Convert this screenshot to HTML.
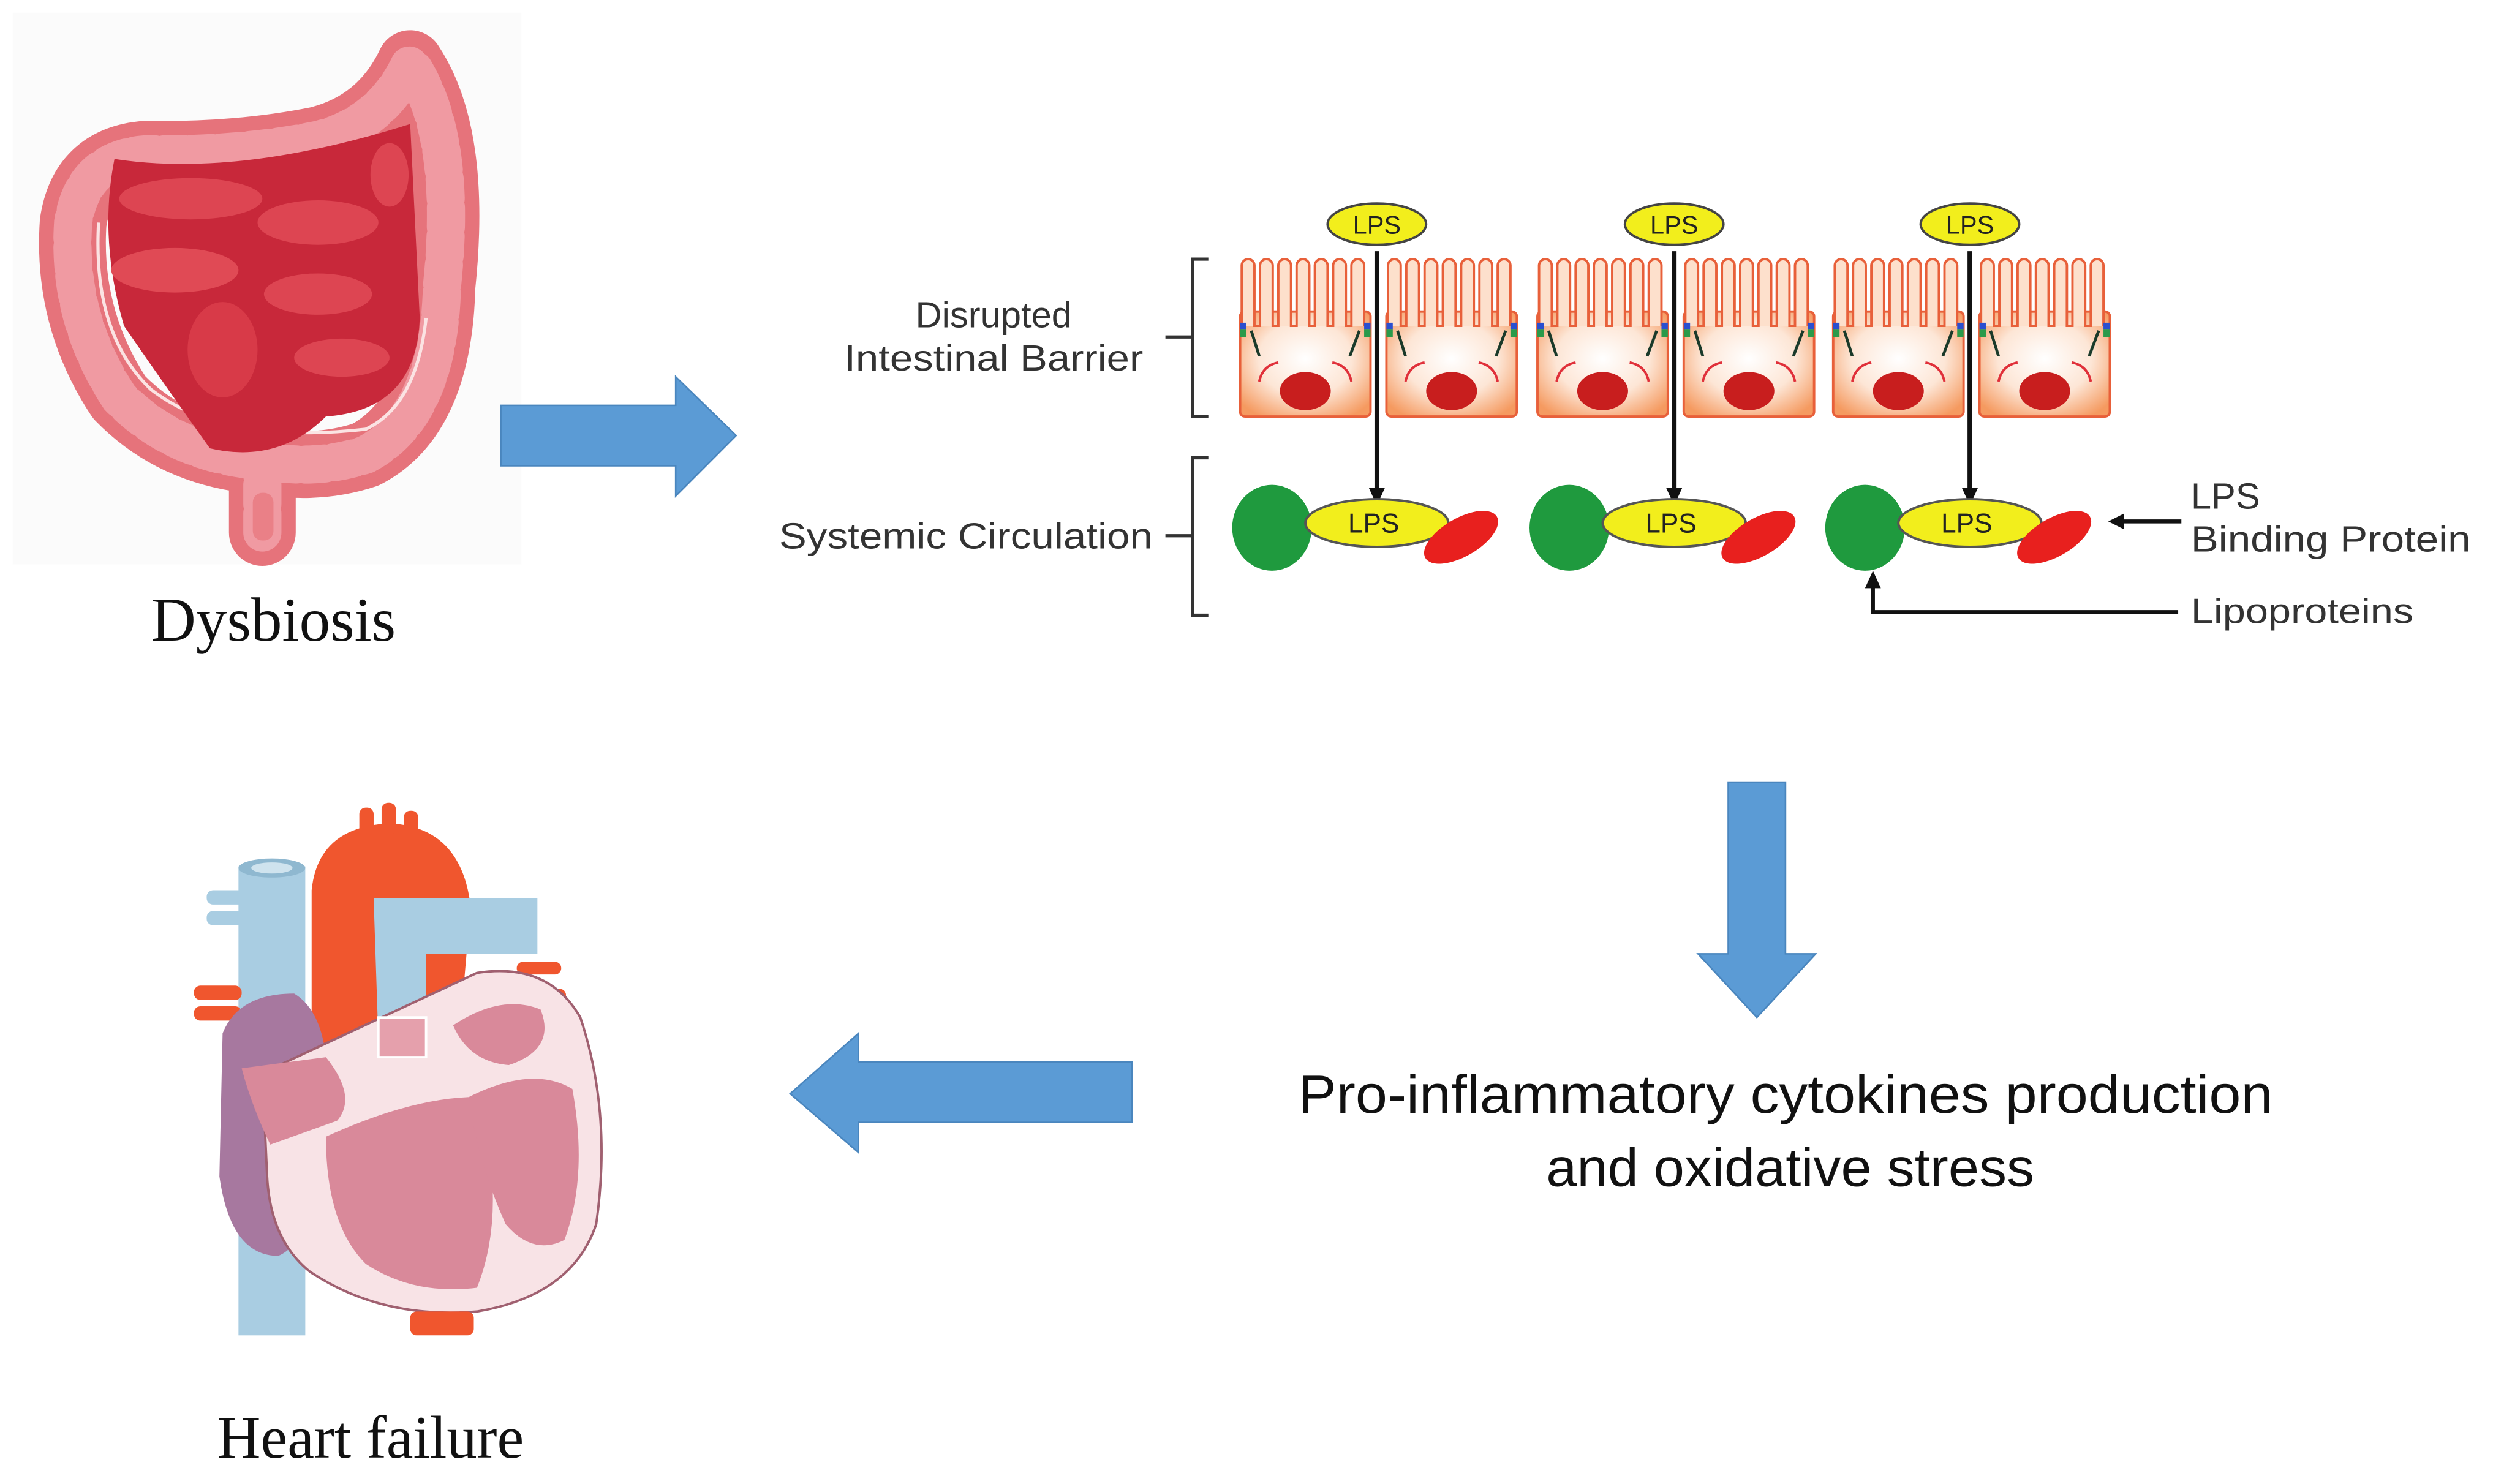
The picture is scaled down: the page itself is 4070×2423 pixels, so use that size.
<!DOCTYPE html>
<html><head><meta charset="utf-8"><style>html,body{margin:0;padding:0;background:#fff}svg{display:block}</style></head>
<body>
<svg width="4070" height="2423" viewBox="0 0 1568 933.5" preserveAspectRatio="none" xmlns="http://www.w3.org/2000/svg">
<defs>
<radialGradient id="cg" cx="50%" cy="45%" r="65%">
<stop offset="0" stop-color="#fff"/><stop offset="0.55" stop-color="#fde6d6"/><stop offset="1" stop-color="#f59a60"/>
</radialGradient>
<g id="cell">
<rect x="0" y="196" width="82" height="66" rx="3" fill="url(#cg)" stroke="#e8603a" stroke-width="1.5"/>
<path d="M1,205 v-38 a4,4 0 0 1 8,0 v38 h3.5 v-38 a4,4 0 0 1 8,0 v38 h3.5 v-38 a4,4 0 0 1 8,0 v38 h3.5 v-38 a4,4 0 0 1 8,0 v38 h3.5 v-38 a4,4 0 0 1 8,0 v38 h3.5 v-38 a4,4 0 0 1 8,0 v38 h3.5 v-38 a4,4 0 0 1 8,0 v38" fill="#fde0cc" stroke="#e8603a" stroke-width="1.5"/>
<rect x="0" y="203" width="4" height="4" fill="#2a4fd0"/><rect x="0" y="207" width="4" height="5" fill="#2a9a4a"/>
<rect x="78" y="203" width="4" height="4" fill="#2a4fd0"/><rect x="78" y="207" width="4" height="5" fill="#2a9a4a"/>
<path d="M7,208 l5,16 M75,208 l-6,16" stroke="#1a3a2a" stroke-width="1.8"/>
<path d="M12,240 q2,-10 12,-12 M70,240 q-2,-10 -12,-12" stroke="#e0303a" stroke-width="1.5" fill="none"/>
<ellipse cx="41" cy="246" rx="16" ry="12" fill="#c81e1e"/>
</g>
<g id="grp">
<use href="#cell" x="780"/><use href="#cell" x="872"/>
<ellipse cx="866" cy="141" rx="31" ry="13" fill="#f2ee1c" stroke="#444" stroke-width="1.5"/>
<text x="866" y="147" font-family="Liberation Sans, sans-serif" font-size="16" text-anchor="middle" fill="#222">LPS</text>
<line x1="866" y1="158" x2="866" y2="310" stroke="#111" stroke-width="3"/>
<path d="M861,307 L866,318 L871,307 Z" fill="#111"/>
<ellipse cx="800" cy="332" rx="25" ry="27" fill="#1f9a3e"/>
<ellipse cx="866" cy="329" rx="45" ry="15" fill="#f2ee1c" stroke="#555" stroke-width="1.5"/>
<text x="864" y="335" font-family="Liberation Sans, sans-serif" font-size="17" text-anchor="middle" fill="#222">LPS</text>
<ellipse cx="0" cy="0" rx="26" ry="12" fill="#e8201e" transform="translate(919,338) rotate(-30)"/>
</g>
</defs>

<!-- Intestine -->
<rect x="8" y="8" width="320" height="347" fill="#fbfbfb"/>
<path d="M165,335 L165,290 Q110,286 75,250 Q42,200 46,140 Q52,100 92,97 Q150,98 200,88 Q240,78 258,40 Q288,85 278,180 Q276,262 230,286 Q200,296 165,290" fill="none" stroke="#e6737b" stroke-width="42" stroke-linejoin="round" stroke-linecap="round"/>
<path d="M165,335 L165,290 Q110,286 75,250 Q42,200 46,140 Q52,100 92,97 Q150,98 200,88 Q240,78 258,40 Q288,85 278,180 Q276,262 230,286 Q200,296 165,290" fill="none" stroke="#f09aa2" stroke-width="24" stroke-dasharray="12 6" stroke-linecap="round"/>
<path d="M62,140 Q58,210 95,245 Q140,280 230,270 Q262,255 268,200" fill="none" stroke="#fbe3e3" stroke-width="2"/>
<rect x="159" y="310" width="13" height="30" rx="6" fill="#ea8087"/>
<path d="M72,100 Q150,112 258,78 L264,200 Q262,258 205,262 Q175,292 132,282 Q102,240 78,205 Q62,150 72,100 Z" fill="#c8283a"/>
<ellipse cx="120" cy="125" rx="45" ry="13" fill="#dd4552"/>
<ellipse cx="200" cy="140" rx="38" ry="14" fill="#dd4552"/>
<ellipse cx="110" cy="170" rx="40" ry="14" fill="#e04a55"/>
<ellipse cx="200" cy="185" rx="34" ry="13" fill="#dd4552"/>
<ellipse cx="140" cy="220" rx="22" ry="30" fill="#d83a48"/>
<ellipse cx="215" cy="225" rx="30" ry="12" fill="#dd4552"/>
<ellipse cx="245" cy="110" rx="12" ry="20" fill="#dd4552"/>
<text x="172" y="403" font-family="Liberation Serif, serif" font-size="39" text-anchor="middle" fill="#111">Dysbiosis</text>

<!-- right arrow -->
<path d="M315,255 H425 V237 L463,274 L425,312 V293 H315 Z" fill="#5b9bd5" stroke="#4a86be" stroke-width="1"/>

<!-- diagram -->
<use href="#grp"/>
<use href="#grp" x="187"/>
<use href="#grp" x="373"/>
<path d="M760,163 H750 V262 H760 M733,212 H750" fill="none" stroke="#333" stroke-width="2"/>
<path d="M760,288 H750 V387 H760 M733,337 H750" fill="none" stroke="#333" stroke-width="2"/>
<g font-family="Liberation Sans, sans-serif" font-size="23" fill="#333">
<text x="625" y="206" text-anchor="middle">Disrupted</text>
<text x="625" y="233" text-anchor="middle" textLength="188" lengthAdjust="spacingAndGlyphs">Intestinal  Barrier</text>
<text x="725" y="345" text-anchor="end" textLength="235" lengthAdjust="spacingAndGlyphs">Systemic  Circulation</text>
<text x="1378" y="320">LPS</text>
<text x="1378" y="347" textLength="176" lengthAdjust="spacingAndGlyphs">Binding  Protein</text>
<text x="1378" y="392" font-size="22" textLength="140" lengthAdjust="spacingAndGlyphs">Lipoproteins</text>
</g>
<line x1="1372" y1="328" x2="1335" y2="328" stroke="#111" stroke-width="2.5"/>
<path d="M1336,323 L1326,328 L1336,333 Z" fill="#111"/>
<path d="M1370,385 H1178 V368" fill="none" stroke="#111" stroke-width="2.5"/>
<path d="M1173,370 L1178,359 L1183,370 Z" fill="#111"/>

<!-- down arrow -->
<path d="M1087,492 H1123 V600 H1142 L1105,640 L1068,600 H1087 Z" fill="#5b9bd5" stroke="#4a86be" stroke-width="1"/>
<g font-family="Liberation Sans, sans-serif" font-size="34" fill="#111" text-anchor="middle">
<text x="1123" y="700" textLength="613" lengthAdjust="spacingAndGlyphs">Pro-inflammatory cytokines production</text>
<text x="1126" y="746" textLength="307" lengthAdjust="spacingAndGlyphs">and oxidative stress</text>
</g>

<!-- left arrow -->
<path d="M712,668 H540 V650 L497,688 L540,725 V706 H712 Z" fill="#5b9bd5" stroke="#4a86be" stroke-width="1"/>

<!-- Heart -->
<rect x="130" y="560" width="24" height="9" rx="4" fill="#a9cde2"/>
<rect x="130" y="573" width="24" height="9" rx="4" fill="#a9cde2"/>
<rect x="150" y="545" width="42" height="295" fill="#a9cde2"/>
<ellipse cx="171" cy="546" rx="21" ry="6" fill="#8fb8d0"/>
<ellipse cx="171" cy="546" rx="13" ry="3.5" fill="#cfe3ee"/>
<rect x="122" y="620" width="30" height="9" rx="4" fill="#f0562e"/>
<rect x="122" y="633" width="30" height="9" rx="4" fill="#f0562e"/>
<path d="M196,660 V560 Q200,520 245,518 Q290,520 296,570 L290,640 L240,660 Z" fill="#f0562e"/>
<rect x="226" y="508" width="9" height="20" rx="4" fill="#f0562e"/><rect x="240" y="505" width="9" height="20" rx="4" fill="#f0562e"/><rect x="254" y="510" width="9" height="20" rx="4" fill="#f0562e"/>
<path d="M235,565 H338 V600 H268 V655 H238 Z" fill="#a9cde2"/>
<rect x="325" y="605" width="28" height="8" rx="4" fill="#f0562e"/><rect x="328" y="622" width="28" height="8" rx="4" fill="#f0562e"/><rect x="328" y="636" width="24" height="8" rx="4" fill="#f0562e"/>
<path d="M140,650 Q150,625 185,625 Q210,640 205,700 Q200,780 175,790 Q145,790 138,740 Z" fill="#a7789f"/>
<path d="M165,675 Q240,640 300,612 Q345,605 365,640 Q385,700 375,770 Q360,815 300,825 Q240,830 195,800 Q170,780 168,740 Z" fill="#f8e3e6" stroke="#a06070" stroke-width="1.5"/>
<path d="M152,672 L205,665 Q225,690 212,705 L170,720 Q158,695 152,672 Z" fill="#d9899a"/>
<path d="M205,715 Q260,690 300,690 Q320,760 300,810 Q260,815 230,795 Q205,770 205,715 Z" fill="#d9899a"/>
<path d="M295,690 Q335,670 360,685 Q370,740 355,780 Q335,790 318,770 Q300,730 295,690 Z" fill="#d9899a"/>
<path d="M285,645 Q315,625 340,635 Q350,660 320,670 Q295,668 285,645 Z" fill="#d9899a"/>
<rect x="238" y="640" width="30" height="25" fill="#e5a0ac" stroke="#fff" stroke-width="1.5"/>
<rect x="258" y="825" width="40" height="15" rx="4" fill="#f0562e"/>
<text x="233" y="917" font-family="Liberation Serif, serif" font-size="38" text-anchor="middle" fill="#111">Heart failure</text>
</svg>
</body></html>
